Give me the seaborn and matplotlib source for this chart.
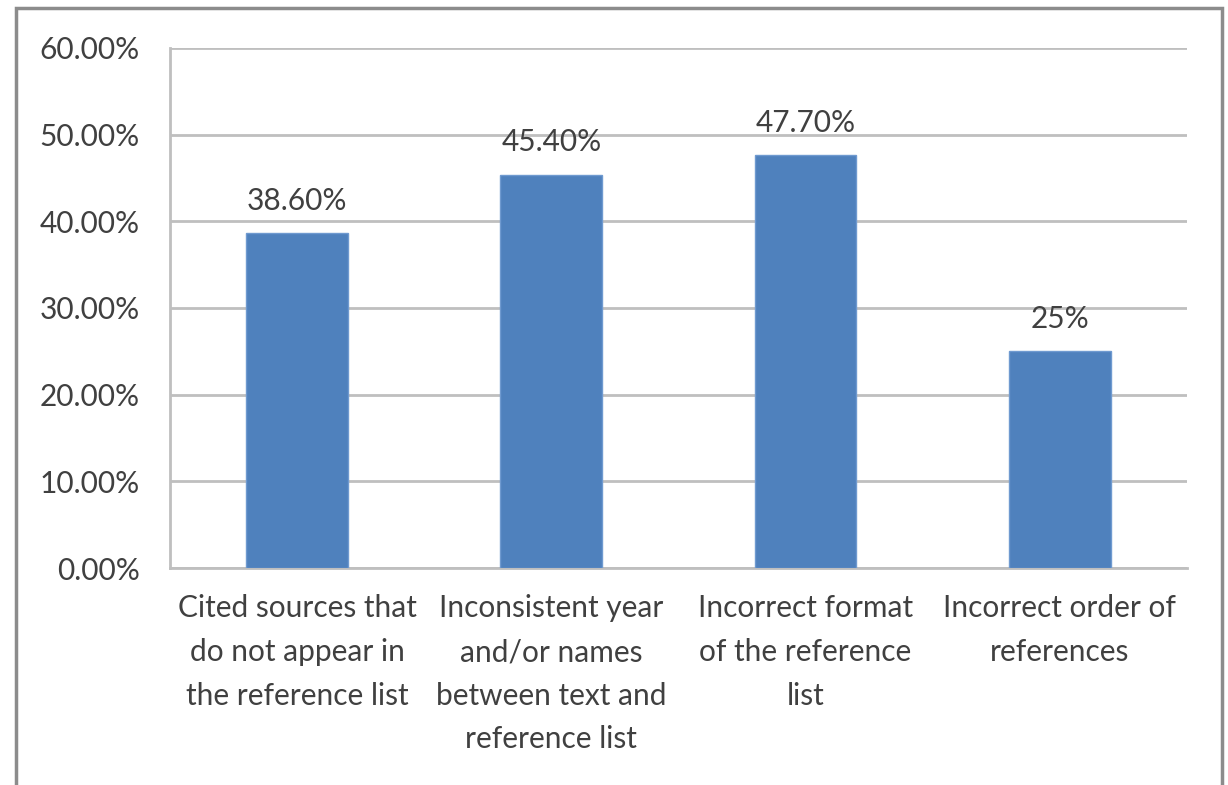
import matplotlib
matplotlib.use("Agg")
import matplotlib.pyplot as plt
import matplotlib.patches as patches
import seaborn as sns
import pandas as pd

# dane
categories = [
    "Cited sources that\ndo not appear in\nthe reference list",
    "Inconsistent year\nand/or names\nbetween text and\nreference list",
    "Incorrect format\nof the reference\nlist",
    "Incorrect order of\nreferences",
]
values = [38.6, 45.4, 47.7, 25.0]
value_labels = ["38.60%", "45.40%", "47.70%", "25%"]
y_ticks = [0, 10, 20, 30, 40, 50, 60]
y_tick_labels = ["0.00%", "10.00%", "20.00%", "30.00%", "40.00%", "50.00%", "60.00%"]

sns.set_style("white")
plt.rcParams["font.family"] = ["Lato", "DejaVu Sans"]
FS = 21.5

df = pd.DataFrame({"category": categories, "value": values})

fig = plt.figure(figsize=(12.28, 7.85), dpi=100)
ax = fig.add_axes([0.1384, 0.2764, 0.8282, 0.6625])

sns.barplot(data=df, x="category", y="value", color="#4F81BD",
            saturation=1, width=0.4, ax=ax, zorder=3,
            edgecolor="#6F9AD0", linewidth=1)

ax.set_ylim(0, 60)
ax.set_xlim(-0.5, len(categories) - 0.5)
ax.set_yticks(y_ticks)
ax.set_yticklabels(y_tick_labels, fontsize=FS, color="#404040")
ax.set_xticks([i - 0.5 for i in range(len(categories) + 1)])
ax.set_xticklabels([])
ax.set_xticks(range(len(categories)), minor=True)
ax.set_xticklabels(categories, minor=True, fontsize=FS, color="#404040",
                   linespacing=1.68, va="top")
ax.tick_params(axis="x", which="minor", length=0, pad=19)
ax.tick_params(axis="x", which="major", length=8.6, width=1.5, color="#BFBFBF", direction="out")
ax.tick_params(axis="y", length=8.6, width=2, color="#BFBFBF", pad=13)
ax.set_xlabel("")
ax.set_ylabel("")

ax.grid(axis="y", color="#BFBFBF", linewidth=2, zorder=0)
for s in ["top", "right"]:
    ax.spines[s].set_visible(False)
for s in ["left", "bottom"]:
    ax.spines[s].set_color("#BFBFBF")
    ax.spines[s].set_linewidth(2)

# etykiety wartości nad słupkami
for i, (v, lab) in enumerate(zip(values, value_labels)):
    ax.annotate(lab, (i, v), xytext=(0, 13), textcoords="offset points",
                ha="center", va="bottom", fontsize=FS, color="#404040")

# ramka wokół wykresu
fig.patches.append(patches.Rectangle((16 / 1228, -0.05), (1222 - 16) / 1228, 1.05 - 8 / 785,
                                     transform=fig.transFigure, fill=False,
                                     edgecolor="#8C8C8C", linewidth=2.5))

fig.savefig("out.png", dpi=100)
